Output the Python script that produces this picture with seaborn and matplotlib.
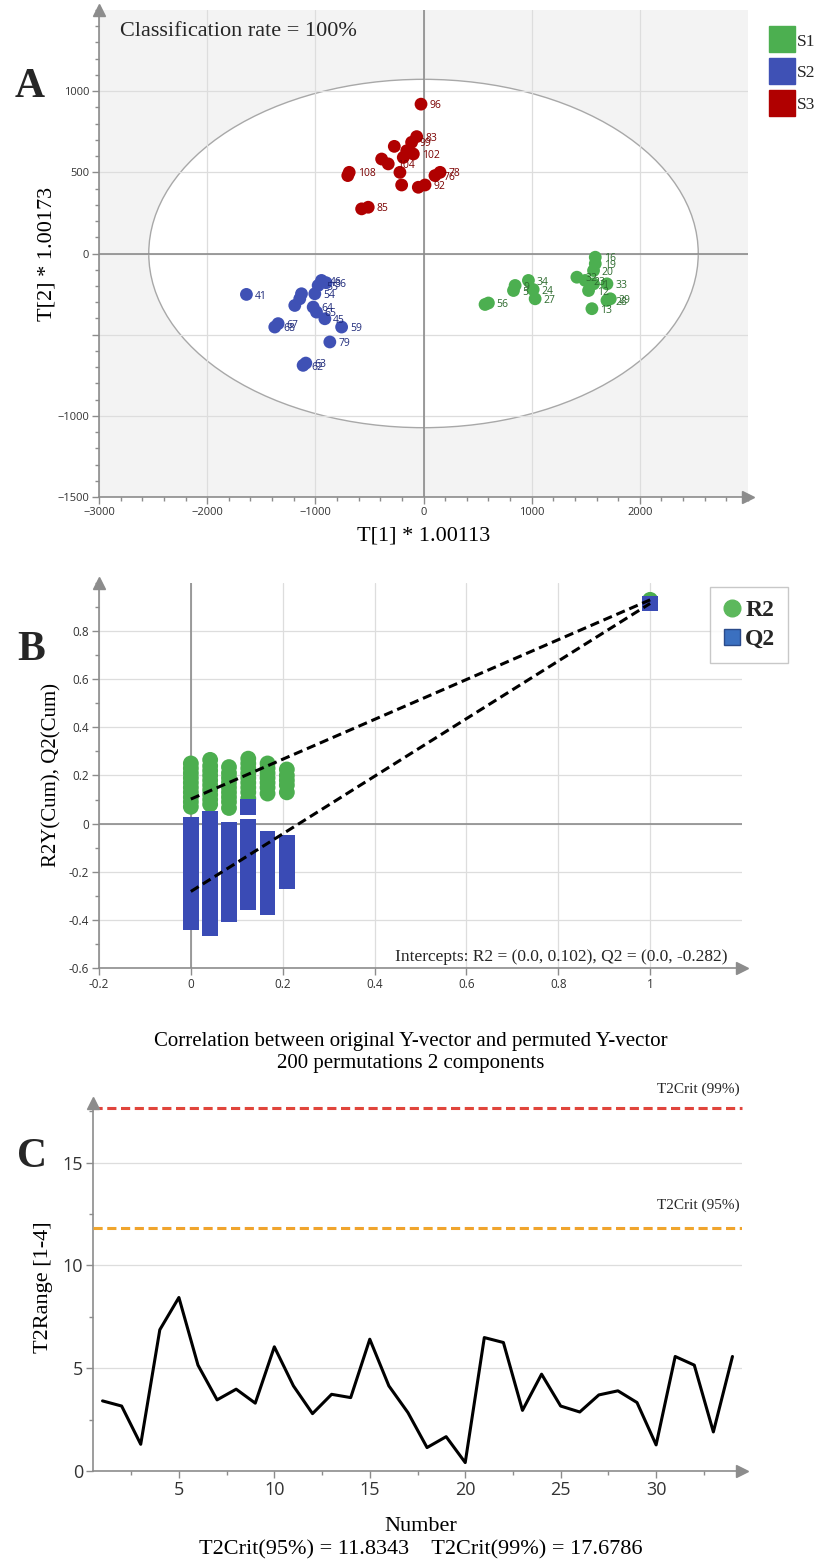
import numpy as np
import pandas as pd
import matplotlib
matplotlib.use("Agg")
import matplotlib.pyplot as plt
import seaborn as sns
from matplotlib.patches import Ellipse
from matplotlib.lines import Line2D
from matplotlib.ticker import MultipleLocator

sns.set_theme(style="white")
plt.rcParams["font.family"] = ["Open Sans", "DejaVu Sans"]
SERIF = "Liberation Serif"

# colours
GREEN = "#4caf50"
BLUE = "#3f51b5"
RED = "#b00000"
AXIS_GRAY = "#8c8c8c"
GRID = "#dddddd"
TICK_TXT = "#333333"

# ---------------- Panel A: OPLS-DA score plot ----------------
s1_t1 = [1588, 1588, 1572, 1418, 1495, 1572, 1526, 1696, 1696, 1727, 1557, 970, 847, 832, 1014, 1032, 600, 569]
s1_t2 = [-23, -63, -105, -146, -166, -187, -228, -187, -289, -279, -340, -166, -197, -228, -222, -279, -305, -314]
s1_ids = ["16", "19", "20", "32", "23", "1", "12", "33", "28", "29", "13", "34", "9", "5", "24", "27", "56", ""]

s2_t1 = [-1637, -1144, -1190, -943, -900, -974, -1005, -1128, -1020, -989, -912, -1344, -1375, -757, -866, -1088, -1113]
s2_t2 = [-252, -279, -320, -166, -180, -197, -248, -248, -330, -361, -402, -432, -453, -453, -545, -675, -689]
s2_ids = ["41", "", "", "46", "36", "55", "54", "", "64", "65", "45", "67", "68", "59", "79", "63", "62"]

s3_t1 = [-23, -63, -110, -270, -155, -94, -187, -387, -326, -218, -687, -700, -202, -48, 14, 106, 153, -511, -572]
s3_t2 = [920, 720, 685, 660, 633, 613, 592, 582, 552, 500, 500, 480, 422, 408, 422, 480, 500, 285, 275]
s3_ids = ["96", "83", "99", "", "", "102", "", "", "104", "", "108", "", "", "", "92", "76", "78", "85", ""]

# ellipse (Hotelling T2 95%) semi-axes
ell_a, ell_b = 2540, 1073

# ---------------- Panel B: permutation test ----------------
r2_perm_x = [0.0, 0.042, 0.083, 0.125, 0.167, 0.209]
r2_perm_y = [
    [0.25, 0.23, 0.21, 0.19, 0.17, 0.15, 0.13, 0.11, 0.09, 0.07],
    [0.265, 0.24, 0.22, 0.2, 0.18, 0.16, 0.14, 0.12, 0.1, 0.08],
    [0.235, 0.21, 0.19, 0.17, 0.15, 0.13, 0.11, 0.09, 0.065],
    [0.27, 0.25, 0.23, 0.21, 0.19, 0.17, 0.15, 0.13, 0.105],
    [0.25, 0.23, 0.21, 0.19, 0.17, 0.15, 0.125],
    [0.225, 0.2, 0.18, 0.16, 0.13],
]
q2_perm_y = [
    [-0.005, -0.045, -0.085, -0.125, -0.165, -0.205, -0.245, -0.285, -0.325, -0.365, -0.41],
    [0.02, -0.02, -0.06, -0.1, -0.14, -0.18, -0.22, -0.26, -0.3, -0.34, -0.38, -0.435],
    [-0.025, -0.065, -0.105, -0.145, -0.185, -0.225, -0.265, -0.305, -0.345, -0.375],
    [0.068, -0.015, -0.055, -0.095, -0.135, -0.175, -0.215, -0.255, -0.295, -0.325],
    [-0.065, -0.105, -0.145, -0.185, -0.225, -0.265, -0.305, -0.345],
    [-0.08, -0.12, -0.16, -0.2, -0.24],
]
r2_orig = 0.93
q2_orig = 0.915
r2_intercept = 0.102
q2_intercept = -0.282

# ---------------- Panel C: Hotelling T2 range ----------------
number = list(range(1, 35))
t2range = [3.41, 3.16, 1.30, 6.87, 8.44, 5.15, 3.46, 3.98, 3.30, 6.04,
           4.14, 2.79, 3.73, 3.57, 6.41, 4.14, 2.84, 1.14, 1.67, 0.41,
           6.49, 6.25, 2.95, 4.71, 3.16, 2.87, 3.70, 3.90, 3.33, 1.27,
           5.57, 5.15, 1.90, 5.57]
t2crit95 = 11.8343
t2crit99 = 17.6786


def style_axes(ax, tick_size):
    for side in ["top", "right"]:
        ax.spines[side].set_visible(False)
    for side in ["left", "bottom"]:
        ax.spines[side].set_color(AXIS_GRAY)
        ax.spines[side].set_linewidth(1.2)
    ax.tick_params(which="both", direction="out", color=AXIS_GRAY, labelcolor=TICK_TXT,
                   left=True, bottom=True, labelsize=tick_size, pad=2)
    ax.tick_params(which="major", length=5, width=1)
    ax.tick_params(which="minor", length=3, width=1)
    # arrow heads at the axis ends
    ax.plot([0], [1], marker="^", ms=9, color=AXIS_GRAY, transform=ax.transAxes, clip_on=False, zorder=6)
    ax.plot([1], [0], marker=">", ms=9, color=AXIS_GRAY, transform=ax.transAxes, clip_on=False, zorder=6)


fig = plt.figure(figsize=(8.22, 15.62), dpi=100)

# ================= A =================
axA = fig.add_axes([99 / 822, 1 - 497 / 1562, 649 / 822, 487 / 1562])
axA.set_facecolor("#f3f3f3")
axA.add_patch(Ellipse((0, 0), 2 * ell_a, 2 * ell_b, facecolor="white", edgecolor="#a8a8a8", lw=1, zorder=0.2))

dfA = pd.DataFrame({
    "t1": s1_t1 + s2_t1 + s3_t1,
    "t2": s1_t2 + s2_t2 + s3_t2,
    "group": ["S1"] * len(s1_t1) + ["S2"] * len(s2_t1) + ["S3"] * len(s3_t1),
    "sid": s1_ids + s2_ids + s3_ids,
})
palA = {"S1": GREEN, "S2": BLUE, "S3": RED}
label_col = {"S1": "#2e6b2f", "S2": "#1f2a7a", "S3": "#7a0000"}
sns.scatterplot(data=dfA, x="t1", y="t2", hue="group", palette=palA, s=85,
                edgecolor="none", legend=False, ax=axA, zorder=3)
for _, row in dfA.iterrows():
    if row["sid"]:
        axA.annotate(row["sid"], (row["t1"], row["t2"]), xytext=(6, -3), textcoords="offset points",
                     fontsize=7.5, color=label_col[row["group"]], zorder=4)

axA.set_xlim(-3000, 3000)
axA.set_ylim(-1500, 1500)
axA.set_xticks([-3000, -2000, -1000, 0, 1000, 2000])
axA.set_yticks([-1500, -1000, -500, 0, 500, 1000])
axA.set_yticklabels(["\u22121500", "\u22121000", "", "0", "500", "1000"])
axA.xaxis.set_minor_locator(MultipleLocator(200))
axA.yaxis.set_minor_locator(MultipleLocator(100))
axA.set_axisbelow(True)
axA.grid(True, which="major", color=GRID, lw=0.9)
axA.axvline(0, color=AXIS_GRAY, lw=1.2, zorder=1)
axA.axhline(0, color=AXIS_GRAY, lw=1.2, zorder=1)
style_axes(axA, 8)
axA.set_xlabel("T[1] * 1.00113", family=SERIF, fontsize=16, color="black")
axA.set_ylabel("T[2] * 1.00173", family=SERIF, fontsize=16, color="black")
axA.xaxis.set_label_coords(0.5, -0.06)
axA.yaxis.set_label_coords(-0.066, 0.5)
axA.text(0.033, 0.975, "Classification rate = 100%", transform=axA.transAxes, family=SERIF,
         fontsize=16, va="top", ha="left")

handlesA = [Line2D([], [], marker="s", ls="", ms=19, color=palA[g]) for g in ["S1", "S2", "S3"]]
axA.legend(handlesA, ["S1", "S2", "S3"], loc="upper left", bbox_to_anchor=(1.039, 0.952),
           frameon=False, handlelength=1.0, handletextpad=0.35, borderaxespad=0, borderpad=0,
           labelspacing=0.9, prop={"family": SERIF, "size": 12.5})

# ================= B =================
axB = fig.add_axes([99 / 822, 1 - 968 / 1562, 643 / 822, 385 / 1562])
r2_rows = [(x, y) for x, ys in zip(r2_perm_x, r2_perm_y) for y in ys]
q2_rows = [(x, y) for x, ys in zip(r2_perm_x, q2_perm_y) for y in ys]
dfR2 = pd.DataFrame(r2_rows + [(1.0, r2_orig)], columns=["cor", "val"])
dfQ2 = pd.DataFrame(q2_rows + [(1.0, q2_orig)], columns=["cor", "val"])
sns.scatterplot(data=dfR2, x="cor", y="val", color="#4cae4f", marker="o", s=130,
                edgecolor="none", ax=axB, zorder=3)
sns.scatterplot(data=dfQ2, x="cor", y="val", color="#3a4bb5", marker="s", s=130,
                edgecolor="none", ax=axB, zorder=4)
axB.plot([0, 1], [r2_intercept, r2_orig], ls=(0, (3, 1.6)), color="black", lw=2.2, zorder=5)
axB.plot([0, 1], [q2_intercept, q2_orig], ls=(0, (3, 1.6)), color="black", lw=2.2, zorder=5)

axB.set_xlim(-0.2, 1.2)
axB.set_ylim(-0.6, 1.0)
axB.set_xticks([-0.2, 0, 0.2, 0.4, 0.6, 0.8, 1.0])
axB.set_xticklabels(["-0.2", "0", "0.2", "0.4", "0.6", "0.8", "1"])
axB.set_yticks([-0.6, -0.4, -0.2, 0, 0.2, 0.4, 0.6, 0.8])
axB.set_yticklabels(["-0.6", "-0.4", "-0.2", "0", "0.2", "0.4", "0.6", "0.8"])
axB.yaxis.set_minor_locator(MultipleLocator(0.1))
axB.set_axisbelow(True)
axB.grid(True, which="major", color=GRID, lw=0.9)
axB.axvline(0, color=AXIS_GRAY, lw=1.2, zorder=1)
axB.axhline(0, color=AXIS_GRAY, lw=1.2, zorder=1)
style_axes(axB, 8.5)
axB.set_xlabel("Correlation between original Y-vector and permuted Y-vector\n200 permutations 2 components",
               family=SERIF, fontsize=15, color="black", linespacing=1.25)
axB.set_ylabel("R2Y(Cum), Q2(Cum)", family=SERIF, fontsize=15, color="black")
axB.xaxis.set_label_coords(0.485, -0.165)
axB.yaxis.set_label_coords(-0.058, 0.5)
axB.text(0.977, 0.008, "Intercepts: R2 = (0.0, 0.102), Q2 = (0.0, -0.282)", transform=axB.transAxes,
         family=SERIF, fontsize=12.5, ha="right", va="bottom")
handlesB = [Line2D([], [], marker="o", ls="", ms=12, color="#5cb85c"),
            Line2D([], [], marker="s", ls="", ms=11, color="#3b70c0", markeredgecolor="#2a4a8a")]
legB = axB.legend(handlesB, ["R2", "Q2"], loc="upper left", bbox_to_anchor=(0.95, 0.99),
                  frameon=True, fancybox=False, edgecolor="#bbbbbb", handlelength=0.8,
                  handletextpad=0.15, borderpad=0.55, labelspacing=0.3, borderaxespad=0,
                  prop={"family": SERIF, "size": 17, "weight": "bold"})

# ================= C =================
axC = fig.add_axes([93 / 822, 1 - 1471 / 1562, 649 / 822, 368 / 1562])
dfC = pd.DataFrame({"Number": number, "T2Range": t2range})
sns.lineplot(data=dfC, x="Number", y="T2Range", color="black", lw=2.2, ax=axC, zorder=4)
axC.axhline(t2crit99, color="#e0443c", ls=(0, (3, 1.5)), lw=2.2, zorder=3, clip_on=False)
axC.axhline(t2crit95, color="#f0a52c", ls=(0, (3, 1.5)), lw=2.2, zorder=3)
axC.text(0.997, t2crit99 + 0.55, "T2Crit (99%)", transform=axC.get_yaxis_transform(), ha="right",
         va="bottom", family=SERIF, fontsize=11)
axC.text(0.997, t2crit95 + 0.75, "T2Crit (95%)", transform=axC.get_yaxis_transform(), ha="right",
         va="bottom", family=SERIF, fontsize=11)
axC.set_xlim(0.5, 34.5)
axC.set_ylim(0, 17.9)
axC.set_xticks([5, 10, 15, 20, 25, 30])
axC.set_yticks([0, 5, 10, 15])
axC.xaxis.set_minor_locator(MultipleLocator(2.5))
axC.yaxis.set_minor_locator(MultipleLocator(2.5))
axC.set_axisbelow(True)
axC.grid(True, axis="y", which="major", color=GRID, lw=0.9)
style_axes(axC, 13)
axC.set_xlabel("Number\nT2Crit(95%) = 11.8343    T2Crit(99%) = 17.6786", family=SERIF, fontsize=16,
               color="black", linespacing=1.3)
axC.set_ylabel("T2Range [1-4]", family=SERIF, fontsize=16, color="black")
axC.xaxis.set_label_coords(0.505, -0.125)
axC.yaxis.set_label_coords(-0.062, 0.5)

# panel letters
for letter, (px, py) in {"A": (30, 87), "B": (31, 650), "C": (32, 1157)}.items():
    fig.text(px / 822, 1 - py / 1562, letter, family=SERIF, fontsize=30, weight="bold",
             ha="center", va="center")

fig.savefig("out.png", dpi=100)
